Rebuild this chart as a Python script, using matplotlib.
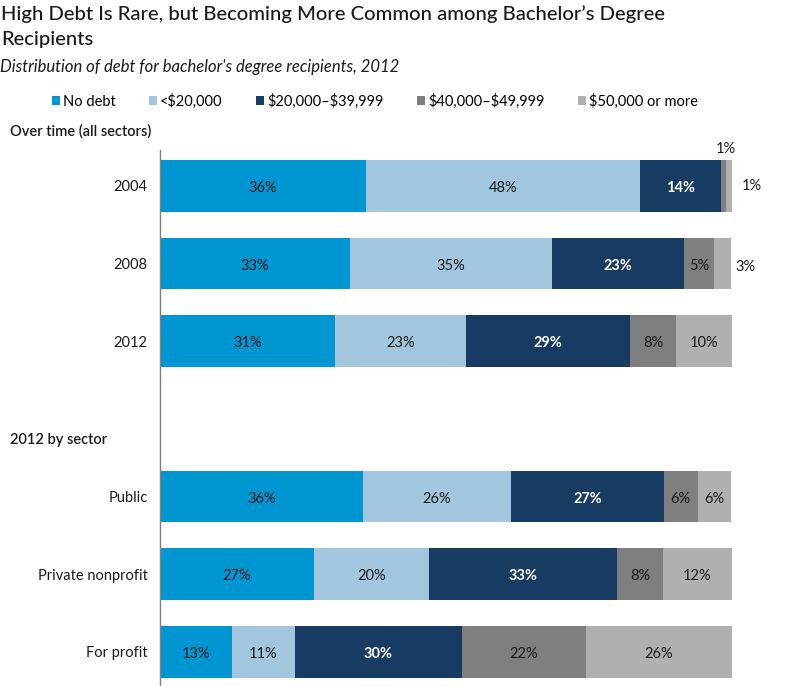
import matplotlib
matplotlib.use("Agg")
import matplotlib.pyplot as plt
import numpy as np

plt.rcParams['font.family'] = ['Lato', 'DejaVu Sans']

# rows (top to bottom); the blank slot is the gap before the sector block
rows = ["2004", "2008", "2012", "", "Public", "Private nonprofit", "For profit"]
series = ["No debt", "<\\$20,000", "\\$20,000\u2013\\$39,999", "\\$40,000\u2013\\$49,999", "\\$50,000 or more"]
colors = ["#0096d2", "#a2c6de", "#183b64", "#7f7f7f", "#b0b0b0"]

# segment widths (percent)
no_debt = [36.0, 33.2, 30.6, 0, 35.5, 26.9, 12.6]
under20 = [48.0, 35.3, 22.9, 0, 25.9, 20.1, 11.0]
mid20_40 = [14.0, 23.1, 28.7, 0, 26.7, 32.9, 29.2]
mid40_50 = [1.0, 5.2, 8.0, 0, 5.9, 8.0, 21.7]
over50 = [1.0, 3.1, 9.8, 0, 5.9, 12.1, 25.5]

# printed labels
lab_no_debt = ["36%", "33%", "31%", "", "36%", "27%", "13%"]
lab_under20 = ["48%", "35%", "23%", "", "26%", "20%", "11%"]
lab_mid20_40 = ["14%", "23%", "29%", "", "27%", "33%", "30%"]
lab_mid40_50 = ["1%", "5%", "8%", "", "6%", "8%", "22%"]
lab_over50 = ["1%", "3%", "10%", "", "6%", "12%", "26%"]

values = [no_debt, under20, mid20_40, mid40_50, over50]
labels = [lab_no_debt, lab_under20, lab_mid20_40, lab_mid40_50, lab_over50]
text_colors = ["#1a1a1a", "#1a1a1a", "white", "#1a1a1a", "#1a1a1a"]
text_weights = ["normal", "normal", "bold", "normal", "normal"]

W, H = 794, 686
fig = plt.figure(figsize=(W / 100, H / 100), dpi=100)
ax = fig.add_axes([160 / W, 0, (732 - 160) / W, 1 - 150 / H])

y = np.arange(len(rows))
left = np.zeros(len(rows))
for s, (vals, name, col) in enumerate(zip(values, series, colors)):
    vals = np.array(vals)
    ax.barh(y, vals, left=left, height=0.667, color=col, label=name, linewidth=0)
    for i, v in enumerate(vals):
        lab = labels[s][i]
        # tiny segments get their label outside the bar (below)
        if not lab or v < 4:
            continue
        ax.text(left[i] + v / 2, y[i] + 0.03, lab, ha="center", va="center", fontsize=10.5,
                color=text_colors[s], fontweight=text_weights[s])
    left += vals

# small segments labelled outside the bars
ax.text(98.9, -0.47, lab_mid40_50[0], ha="center", va="center", fontsize=10.5, color="#1a1a1a")
ax.text(101.7, 0.0, lab_over50[0], ha="left", va="center", fontsize=10.5, color="#1a1a1a")
ax.text(100.6, 1.04, lab_over50[1], ha="left", va="center", fontsize=10.5, color="#1a1a1a")

ax.set_xlim(0, 100)
ax.set_ylim(6.44, -0.46)
ax.set_yticks([0, 1, 2, 4, 5, 6])
ax.set_yticklabels([rows[i] for i in [0, 1, 2, 4, 5, 6]], fontsize=10.5, color="#1a1a1a")
ax.tick_params(axis="y", length=0, pad=9)
ax.set_xticks([])
for sp in ["top", "right", "bottom"]:
    ax.spines[sp].set_visible(False)
ax.spines["left"].set_color("#808080")
ax.spines["left"].set_linewidth(1)
ax.patch.set_alpha(0)

fig.text(1 / W, 1 - 14 / H, "High Debt Is Rare, but Becoming More Common among Bachelor\u2019s Degree",
         ha="left", va="center", fontsize=14.6, fontweight="medium", color="#1a1a1a")
fig.text(1 / W, 1 - 40 / H, "Recipients",
         ha="left", va="center", fontsize=14.6, fontweight="medium", color="#1a1a1a")
fig.text(0 / W, 1 - 67 / H, "Distribution of debt for bachelor's degree recipients, 2012",
         ha="left", va="center", fontsize=12, style="italic", color="#1a1a1a")
fig.text(10 / W, 1 - 131 / H, "Over time (all sectors)", ha="left", va="center",
         fontsize=10.5, fontweight="semibold", color="#1a1a1a")
fig.text(10 / W, 1 - 440 / H, "2012 by sector", ha="left", va="center",
         fontsize=10.5, fontweight="semibold", color="#1a1a1a")

handles, names = ax.get_legend_handles_labels()
fig.legend(handles, names, loc="center left", bbox_to_anchor=(46 / W, 1 - 101 / H),
           ncol=5, frameon=False, fontsize=10.5, handlelength=0.55, handleheight=0.55,
           handletextpad=0.2, columnspacing=2.3, borderaxespad=0)

fig.savefig("out.png", dpi=100)
